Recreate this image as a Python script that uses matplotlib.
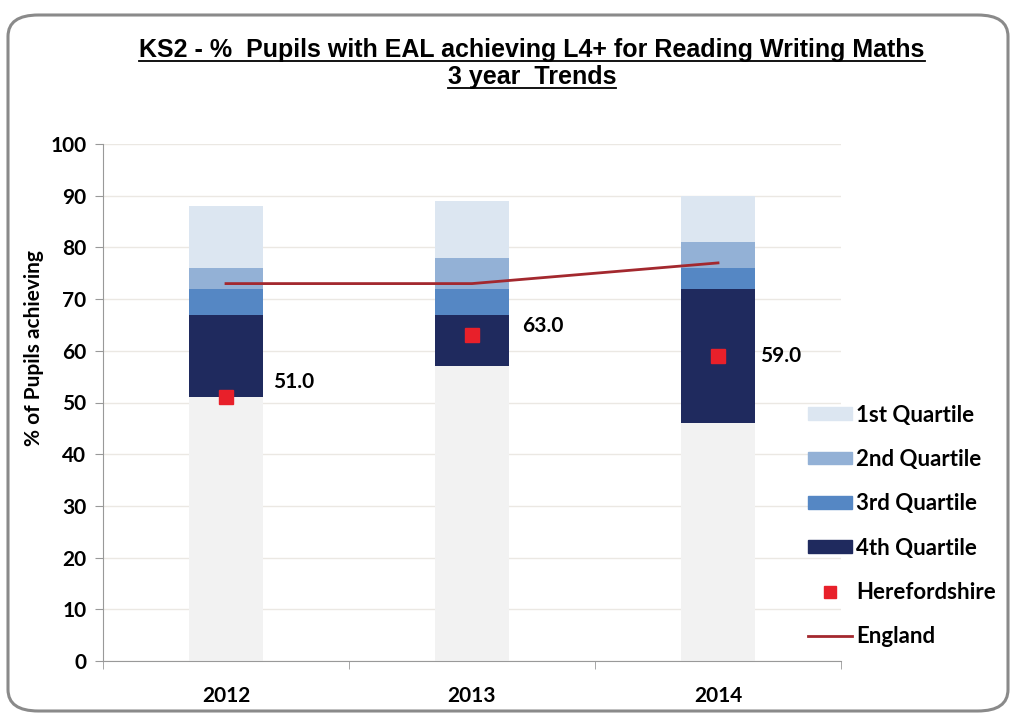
import matplotlib
matplotlib.use("Agg")
import matplotlib.pyplot as plt
from matplotlib.patches import FancyBboxPatch, Patch
from matplotlib.lines import Line2D
from matplotlib import font_manager
import numpy as np

years = ["2012", "2013", "2014"]
base = [51, 57, 46]            # bottom of 4th quartile
q4_top = [67, 67, 72]
q3_top = [72, 72, 76]
q2_top = [76, 78, 81]
q1_top = [88, 89, 90]
herefordshire = [51.0, 63.0, 59.0]
england = [73, 73, 77]

names = {f.name for f in font_manager.fontManager.ttflist}
title_font = "Liberation Sans Narrow" if "Liberation Sans Narrow" in names else "Liberation Sans"
body_font = "Lato"

plt.rcParams["font.family"] = [body_font, "DejaVu Sans"]
plt.rcParams["font.weight"] = "bold"

fig = plt.figure(figsize=(10.12, 7.15), dpi=100)

# rounded outer frame
frame = FancyBboxPatch((8 / 1012, 4 / 715), 1000 / 1012, 696 / 715,
                       boxstyle="round,pad=0,rounding_size=0.03",
                       transform=fig.transFigure, fill=False,
                       edgecolor="#8a8a8a", linewidth=2.2, zorder=0)
fig.patches.append(frame)

ax = fig.add_axes([103 / 1012, 54 / 715, 738 / 1012, 517 / 715])

x = np.arange(len(years))
w = 0.3
col_base = "#f2f2f2"
col_q4 = "#1f2a5e"
col_q3 = "#5587c4"
col_q2 = "#93b1d6"
col_q1 = "#dce6f1"

b = np.array(base)
q4 = np.array(q4_top)
q3 = np.array(q3_top)
q2 = np.array(q2_top)
q1 = np.array(q1_top)

ax.bar(x, b, w, color=col_base, zorder=2)
ax.bar(x, q4 - b, w, bottom=b, color=col_q4, zorder=2)
ax.bar(x, q3 - q4, w, bottom=q4, color=col_q3, zorder=2)
ax.bar(x, q2 - q3, w, bottom=q3, color=col_q2, zorder=2)
ax.bar(x, q1 - q2, w, bottom=q2, color=col_q1, zorder=2)

ax.plot(x, england, color="#a3282e", linewidth=2, zorder=3)
ax.plot(x, herefordshire, "s", color="#e8202a", markersize=10, zorder=4)

offsets = [(34, 11), (36, 7), (30, 0)]
for xi, v, off in zip(x, herefordshire, offsets):
    ax.annotate(f"{v:.1f}", (xi, v), xytext=off, textcoords="offset points",
                ha="left", va="center", fontsize=15, fontweight="bold")

ax.set_xlim(-0.5, 2.5)
ax.set_ylim(0, 100)
ax.set_yticks(range(0, 101, 10))
ax.set_xticks(x)
ax.set_xticklabels(years)
ax.set_xticks([-0.5, 0.5, 1.5, 2.5], minor=True)
ax.tick_params(axis="x", which="major", length=0, pad=18, labelsize=15)
ax.tick_params(axis="x", which="minor", length=6, color="#999999")
ax.tick_params(axis="y", length=6, color="#999999", labelsize=15, pad=6)
for lab in ax.get_xticklabels() + ax.get_yticklabels():
    lab.set_fontweight("bold")

ax.grid(axis="y", color="#ebe8e3", linewidth=1, zorder=0)
ax.set_axisbelow(True)
for s in ["top", "right"]:
    ax.spines[s].set_visible(False)
ax.spines["left"].set_color("#999999")
ax.spines["bottom"].set_color("#999999")
ax.set_ylabel("% of Pupils achieving", fontsize=15, fontweight="bold")
ax.yaxis.set_label_coords(-0.08, 0.605)

handles = [
    Patch(color=col_q1, label="1st Quartile"),
    Patch(color=col_q2, label="2nd Quartile"),
    Patch(color=col_q3, label="3rd Quartile"),
    Patch(color=col_q4, label="4th Quartile"),
    Line2D([], [], marker="s", linestyle="none", color="#e8202a", markersize=8, label="Herefordshire"),
    Line2D([], [], color="#a3282e", linewidth=2, label="England"),
]
fig.legend(handles=handles, loc="center left", bbox_to_anchor=(808 / 1012, 1 - 526 / 715),
           frameon=False, prop={"weight": "bold", "size": 16},
           handlelength=2.0, handleheight=0.5, handletextpad=0.15,
           labelspacing=1.05, borderpad=0, borderaxespad=0)

# title with underline
title_lines = ["KS2 - %  Pupils with EAL achieving L4+ for Reading Writing Maths",
               "3 year  Trends"]
ys = [1 - 50 / 715, 1 - 77 / 715]
texts = []
for t, yy in zip(title_lines, ys):
    texts.append(fig.text(532 / 1012, yy, t, ha="center", va="center",
                          family=[title_font, "DejaVu Sans"], fontsize=18, fontweight="bold"))

fig.canvas.draw()
r = fig.canvas.get_renderer()
for t in texts:
    bb = t.get_window_extent(r).transformed(fig.transFigure.inverted())
    fig.add_artist(Line2D([bb.x0, bb.x1], [bb.y0 + 0.002, bb.y0 + 0.002],
                          transform=fig.transFigure, color="black", linewidth=1.3))

fig.savefig("out.png", dpi=100)
